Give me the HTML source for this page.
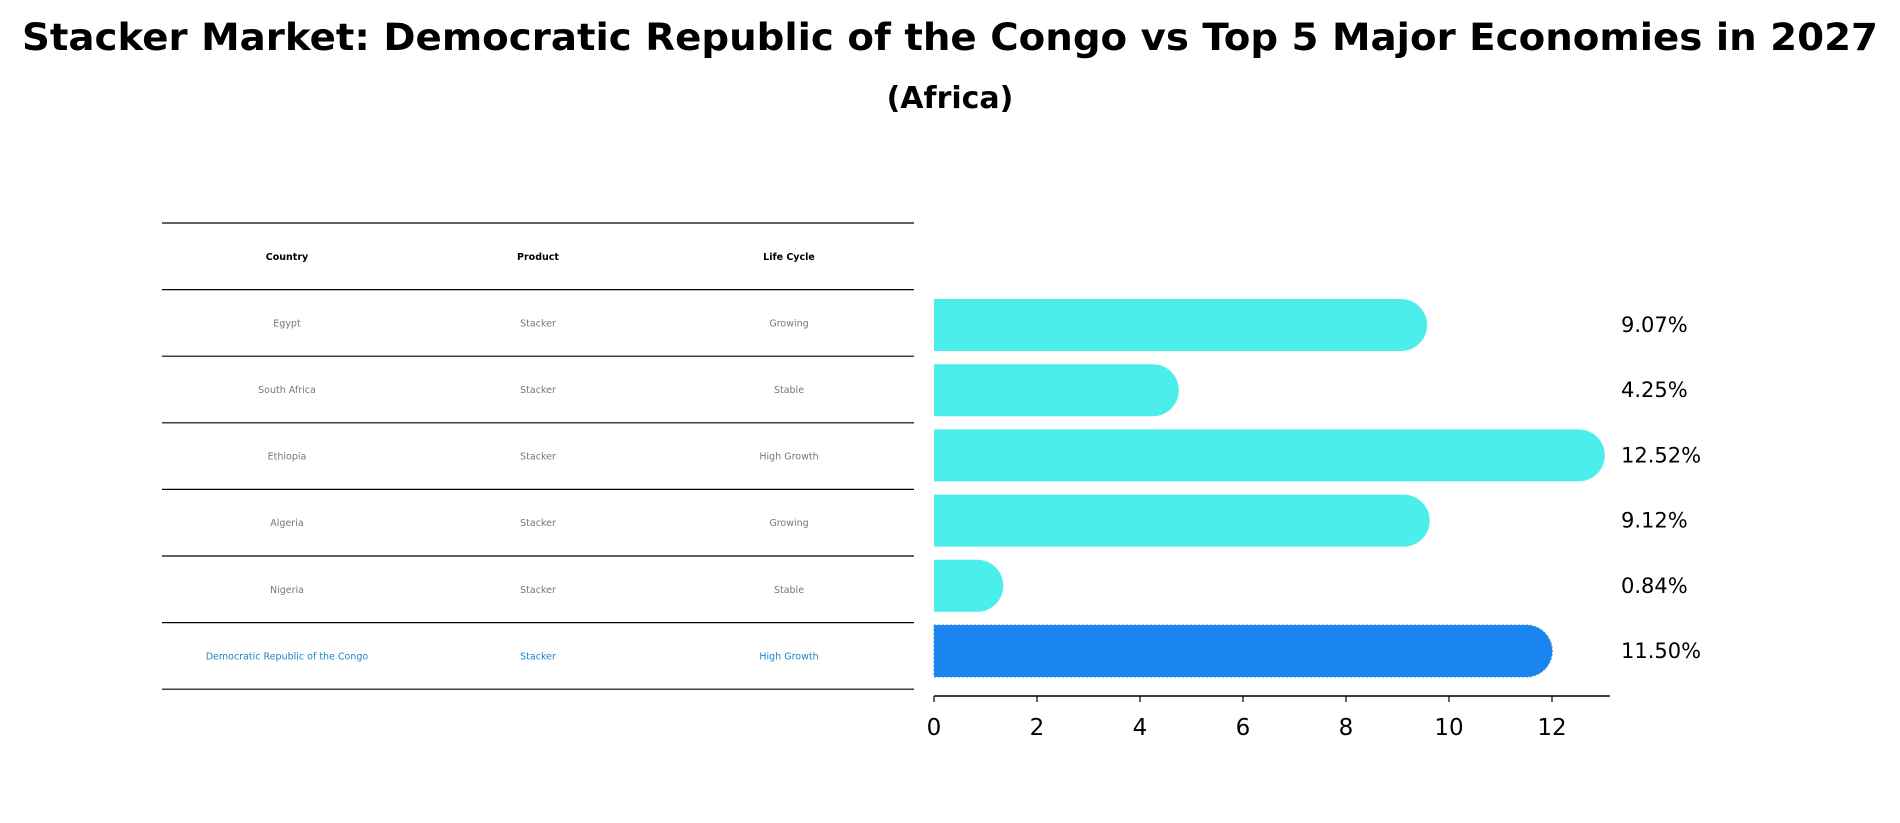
<!DOCTYPE html>
<html><head><meta charset="utf-8"><style>
html,body{margin:0;padding:0;background:#fff;}
svg{display:block;font-family:"DejaVu Sans","Liberation Sans",sans-serif;}
</style></head><body>
<svg id="chart" width="1900" height="823" viewBox="0 0 1900 823" xmlns="http://www.w3.org/2000/svg">
<text x="950" y="50" text-anchor="middle" font-size="37" font-weight="bold" textLength="1856" lengthAdjust="spacingAndGlyphs">Stacker Market: Democratic Republic of the Congo vs Top 5 Major Economies in 2027</text>
<text x="950" y="108" text-anchor="middle" font-size="30" font-weight="bold">(Africa)</text>
<g id="table"></g>
<g id="bars"></g>
</svg>
<script>
const countries = ["Egypt","South Africa","Ethiopia","Algeria","Nigeria","Democratic Republic of the Congo"];
const products = ["Stacker","Stacker","Stacker","Stacker","Stacker","Stacker"];
const lifeCycles = ["Growing","Stable","High Growth","Growing","Stable","High Growth"];
const values = [9.07,4.25,12.52,9.12,0.84,11.50];
const xTicks = [0,2,4,6,8,10,12];

const NS="http://www.w3.org/2000/svg";
function mk(tag,attrs,parent,text){const e=document.createElementNS(NS,tag);for(const k in attrs)e.setAttribute(k,attrs[k]);if(text!==undefined)e.textContent=text;parent.appendChild(e);return e;}

// table
const tbl=document.getElementById('table');
const tX0=162,tX1=914,tTop=223,rowH=66.6;
const colX=[287,538,789];
const headers=["Country","Product","Life Cycle"];
for(let i=0;i<=7;i++){
  const l=mk('line',{x1:tX0,x2:tX1,y1:tTop+i*rowH,y2:tTop+i*rowH,stroke:'#000','stroke-width':1.2},tbl);
  
  
}
headers.forEach((h,j)=>{
  const t=mk('text',{x:colX[j],y:tTop+rowH/2+3.5,'text-anchor':'middle','font-size':9.5,'font-weight':'bold',fill:'#000'},tbl,h);
  
  
});
countries.forEach((c,i)=>{
  const y=tTop+(i+1)*rowH+rowH/2+3.5;
  const col=(i===countries.length-1)?'#1a85c8':'#777';
  [c,products[i],lifeCycles[i]].forEach((v,j)=>{
    const t=mk('text',{x:colX[j],y:y,'text-anchor':'middle','font-size':9.5,fill:col},tbl,v);
    
    
  });
});

// bars
const g=document.getElementById('bars');
const x0=934,unit=51.5,barH=52,r=26;
const xs=v=>x0+v*unit;
const yc=i=>325+i*65.2;
values.forEach((v,i)=>{
  const hl=i===values.length-1;
  const col=hl?'#1a85f0':'#4beeea';
  const xe=xs(v),top=yc(i)-barH/2;
  const p=mk('path',{d:`M${x0},${top} H${xe} A${r},${r} 0 0 1 ${xe},${top+barH} H${x0} Z`,fill:col},g);
  if(hl){p.setAttribute('stroke','#4a8fd8');p.setAttribute('stroke-dasharray','2,2');p.setAttribute('stroke-width','1');}
  
  
  const t=mk('text',{x:1621,y:yc(i)+7,'font-size':21,fill:'#000'},g,v.toFixed(2)+'%');
  
  
});
const ax=mk('line',{x1:x0,x2:1610,y1:696,y2:696,stroke:'#000','stroke-width':1.5},g);


xTicks.forEach(tv=>{
  const tk=mk('line',{x1:xs(tv),x2:xs(tv),y1:696,y2:702,stroke:'#000','stroke-width':1.2},g);
  
  
  const t=mk('text',{x:xs(tv),y:735,'text-anchor':'middle','font-size':23,fill:'#000'},g,String(tv));
  
  
});
</script>
</body></html>
